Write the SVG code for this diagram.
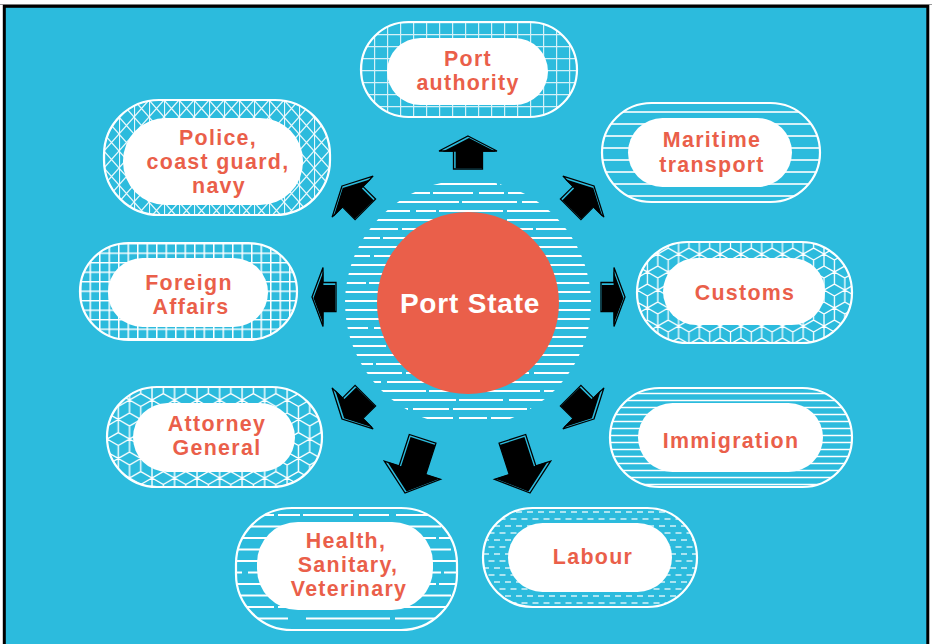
<svg xmlns="http://www.w3.org/2000/svg" xmlns:xlink="http://www.w3.org/1999/xlink" width="932" height="644" viewBox="0 0 932 644">
<style>
.t{font-family:"Liberation Sans",Arial,sans-serif;font-weight:700;font-size:21.4px;letter-spacing:1.3px;fill:#ea5f4a;text-anchor:middle}
.ps{font-family:"Liberation Sans",Arial,sans-serif;font-weight:700;font-size:28px;letter-spacing:0.8px;fill:#ffffff;text-anchor:middle}
.outer{stroke:#ffffff;stroke-width:2.2}
.inner{fill:#ffffff}
.ao{fill:none;stroke:#000;stroke-width:1.3;stroke-linejoin:miter}
.af{fill:#000}
.pl{stroke:#ffffff;fill:none}
.dl{stroke:#ffffff;fill:none;stroke-width:2.2}
</style>
<defs>
<pattern id="pGrid" patternUnits="userSpaceOnUse" width="13" height="12" x="361" y="22">
<path class="pl" d="M0.5,0V12M0,0.5H13" stroke-width="1.4" stroke-opacity="0.8"/>
</pattern>
<pattern id="pTri" patternUnits="userSpaceOnUse" width="15" height="17" x="104" y="100">
<path class="pl" d="M0.5,0V17M0,0L15,17M15,0L0,17" stroke-width="1.2" stroke-opacity="0.9"/>
</pattern>
<pattern id="pH12" patternUnits="userSpaceOnUse" width="20" height="12" x="0" y="106">
<path class="pl" d="M0,6H20" stroke-width="1.6"/>
</pattern>
<pattern id="pSq" patternUnits="userSpaceOnUse" width="9.5" height="9.5" x="80" y="243">
<path class="pl" d="M0.75,0V9.5M0,0.75H9.5" stroke-width="1.5"/>
</pattern>
<pattern id="pCube" patternUnits="userSpaceOnUse" width="20.78" height="36" x="637" y="242">
<path class="pl" stroke-width="1.3" d="M0,-12L10.39,-6L10.39,6L0,12L-10.39,6L-10.39,-6ZM0,0V12M0,0L10.39,-6M0,0L-10.39,-6
M20.78,-12L31.17,-6L31.17,6L20.78,12L10.39,6L10.39,-6ZM20.78,0V12M20.78,0L31.17,-6M20.78,0L10.39,-6
M0,24L10.39,30L10.39,42L0,48L-10.39,42L-10.39,30ZM0,36V48M0,36L10.39,30M0,36L-10.39,30
M20.78,24L31.17,30L31.17,42L20.78,48L10.39,42L10.39,30ZM20.78,36V48M20.78,36L31.17,30M20.78,36L10.39,30
M10.39,6L20.78,12L20.78,24L10.39,30L0,24L0,12ZM10.39,18V30M10.39,18L20.78,12M10.39,18L0,12"/>
</pattern>
<pattern id="pCube2" patternUnits="userSpaceOnUse" width="22.52" height="39" x="107" y="387">
<path class="pl" stroke-width="1.4" d="M0,-13L11.26,-6.5L11.26,6.5L0,13L-11.26,6.5L-11.26,-6.5ZM0,0V13M0,0L11.26,-6.5M0,0L-11.26,-6.5
M22.52,-13L33.78,-6.5L33.78,6.5L22.52,13L11.26,6.5L11.26,-6.5ZM22.52,0V13M22.52,0L33.78,-6.5M22.52,0L11.26,-6.5
M0,26L11.26,32.5L11.26,45.5L0,52L-11.26,45.5L-11.26,32.5ZM0,39V52M0,39L11.26,32.5M0,39L-11.26,32.5
M22.52,26L33.78,32.5L33.78,45.5L22.52,52L11.26,45.5L11.26,32.5ZM22.52,39V52M22.52,39L33.78,32.5M22.52,39L11.26,32.5
M11.26,6.5L22.52,13L22.52,26L11.26,32.5L0,26L0,13ZM11.26,19.5V32.5M11.26,19.5L22.52,13M11.26,19.5L0,13"/>
</pattern>
<pattern id="pH7" patternUnits="userSpaceOnUse" width="20" height="7" x="0" y="390">
<path class="pl" d="M0,3.5H20" stroke-width="1.5"/>
</pattern>
<pattern id="pBrush" patternUnits="userSpaceOnUse" width="230" height="46" x="236" y="510">
<path class="pl" d="M0,5H230" stroke-width="2.2" stroke-dasharray="38 4 22 3 50 6 30 7 70 0"/>
<path class="pl" d="M0,16.5H230" stroke-width="2" stroke-dasharray="14 5 46 3 28 6 40 18 70 0" stroke-dashoffset="90"/>
<path class="pl" d="M0,28H230" stroke-width="2.2" stroke-dasharray="55 4 33 8 20 3 60 5 42 0" stroke-dashoffset="150"/>
<path class="pl" d="M0,39.5H230" stroke-width="2" stroke-dasharray="25 3 66 5 39 12 48 4 28 0" stroke-dashoffset="40"/>
</pattern>
<pattern id="pDash" patternUnits="userSpaceOnUse" width="22" height="14" x="483" y="508">
<path class="pl" d="M0,4H6M11,4H17M5.5,11H11.5M16.5,11H22.5M-5.5,11H0.5" stroke-width="1.6" stroke-opacity="0.8"/>
</pattern>
<clipPath id="discClip"><circle cx="468" cy="303" r="123"/></clipPath>
<polygon id="aU" points="0,0 29,15 14.5,15 14.5,33 -14.5,33 -14.5,15 -29,15"/>
<polygon id="aS" points="0,0 29.5,11 14.5,11 14.5,24 -14.5,24 -14.5,11 -29.5,11"/>
<polygon id="aL" points="0,0 29.5,24 14,24 14,57 -14,57 -14,24 -29.5,24"/>
</defs>

<rect x="0" y="0" width="932" height="644" fill="#ffffff"/>
<line x1="0" y1="4.5" x2="932" y2="4.5" stroke="#9a9a9a" stroke-width="1"/>
<rect x="4.3" y="6.3" width="923.5" height="650" fill="#2cbbdd" stroke="#000" stroke-width="3"/>

<g id="center">
<g clip-path="url(#discClip)">
<path class="dl" d="M340,184H600" stroke-dasharray="48 5 30 4 70 3 100 0"/>
<path class="dl" d="M340,193H600" stroke-dasharray="90 3 40 6 25 4 92 0"/>
<path class="dl" d="M340,202H600" stroke-dasharray="35 4 80 3 55 5 78 0"/>
<path class="dl" d="M340,211H600" stroke-dasharray="70 6 20 3 64 4 93 0"/>
<path class="dl" d="M340,220H600" stroke-dasharray="22 3 95 5 38 4 93 0"/>
<path class="dl" d="M340,229H600" stroke-dasharray="58 4 44 7 80 3 64 0"/>
<path class="dl" d="M340,238H600" stroke-dasharray="40 3 66 4 30 5 112 0"/>
<path class="dl" d="M340,247H600" stroke-dasharray="100 5 25 3 58 4 65 0"/>
<path class="dl" d="M340,256H600" stroke-dasharray="30 4 52 3 90 6 75 0"/>
<path class="dl" d="M340,265H600" stroke-dasharray="76 3 36 5 48 4 88 0"/>
<path class="dl" d="M340,274H600" stroke-dasharray="44 6 82 3 27 4 94 0"/>
<path class="dl" d="M340,283H600" stroke-dasharray="26 3 60 5 96 3 67 0"/>
<path class="dl" d="M340,292H600" stroke-dasharray="66 4 40 3 52 6 89 0"/>
<path class="dl" d="M340,301H600" stroke-dasharray="38 5 90 4 33 3 87 0"/>
<path class="dl" d="M340,310H600" stroke-dasharray="84 3 28 6 62 4 73 0"/>
<path class="dl" d="M340,319H600" stroke-dasharray="52 4 70 3 40 5 86 0"/>
<path class="dl" d="M340,328H600" stroke-dasharray="28 6 46 4 98 3 75 0"/>
<path class="dl" d="M340,337H600" stroke-dasharray="72 3 56 5 30 4 90 0"/>
<path class="dl" d="M340,346H600" stroke-dasharray="46 4 34 3 84 6 83 0"/>
<path class="dl" d="M340,355H600" stroke-dasharray="94 5 42 4 50 3 62 0"/>
<path class="dl" d="M340,364H600" stroke-dasharray="33 3 74 6 40 4 100 0"/>
<path class="dl" d="M340,373H600" stroke-dasharray="62 4 28 3 92 5 66 0"/>
<path class="dl" d="M340,382H600" stroke-dasharray="41 6 58 4 36 3 112 0"/>
<path class="dl" d="M340,391H600" stroke-dasharray="86 3 46 5 60 4 56 0"/>
<path class="dl" d="M340,400H600" stroke-dasharray="24 4 88 3 44 6 91 0"/>
<path class="dl" d="M340,409H600" stroke-dasharray="68 5 36 4 74 3 70 0"/>
<path class="dl" d="M340,418H600" stroke-dasharray="50 3 60 6 28 4 109 0"/>
</g>
<circle cx="468" cy="303" r="91" fill="#ea5f4a"/>
<text class="ps" x="470" y="313">Port State</text>
</g>

<g id="connectors">
<g transform="translate(468,136)"><use xlink:href="#aU" class="ao"/><use xlink:href="#aU" class="af" transform="translate(1,2) scale(0.92)"/></g>
<g transform="translate(594,186) rotate(45)"><use xlink:href="#aU" class="ao"/><use xlink:href="#aU" class="af" transform="translate(1,2) scale(0.92)"/></g>
<g transform="translate(625,297) rotate(90)"><use xlink:href="#aS" class="ao"/><use xlink:href="#aS" class="af" transform="translate(1,1.5) scale(0.9)"/></g>
<g transform="translate(594,419) rotate(135)"><use xlink:href="#aU" class="ao"/><use xlink:href="#aU" class="af" transform="translate(1,2) scale(0.92)"/></g>
<g transform="translate(530,493) rotate(162)"><use xlink:href="#aL" class="ao"/><use xlink:href="#aL" class="af" transform="translate(1,2) scale(0.93)"/></g>
<g transform="translate(405,493) rotate(198)"><use xlink:href="#aL" class="ao"/><use xlink:href="#aL" class="af" transform="translate(-1,2) scale(0.93)"/></g>
<g transform="translate(342,419) rotate(225)"><use xlink:href="#aU" class="ao"/><use xlink:href="#aU" class="af" transform="translate(-1,2) scale(0.92)"/></g>
<g transform="translate(312,297) rotate(270)"><use xlink:href="#aS" class="ao"/><use xlink:href="#aS" class="af" transform="translate(-1,1.5) scale(0.9)"/></g>
<g transform="translate(342,186) rotate(315)"><use xlink:href="#aU" class="ao"/><use xlink:href="#aU" class="af" transform="translate(-1,2) scale(0.92)"/></g>
</g>

<g id="port-authority">
<rect class="outer" x="361" y="22" width="216" height="95" rx="47.5" fill="url(#pGrid)"/>
<rect class="inner" x="387" y="38" width="161" height="67" rx="33.5"/>
<text class="t" x="468" y="66">Port</text>
<text class="t" x="468" y="90">authority</text>
</g>

<g id="police">
<rect class="outer" x="104" y="100" width="226" height="115" rx="55" fill="url(#pTri)"/>
<rect class="inner" x="123" y="118" width="180" height="87" rx="43"/>
<text class="t" x="218" y="145">Police,</text>
<text class="t" x="218" y="169">coast guard,</text>
<text class="t" x="219" y="193">navy</text>
</g>

<g id="maritime">
<rect class="outer" x="602" y="103" width="218" height="99" rx="49.5" fill="url(#pH12)"/>
<rect class="inner" x="628" y="118" width="164" height="69" rx="34.5"/>
<text class="t" x="712" y="147">Maritime</text>
<text class="t" x="712" y="172">transport</text>
</g>

<g id="foreign-affairs">
<rect class="outer" x="80" y="243" width="217" height="97" rx="48.5" fill="url(#pSq)"/>
<rect class="inner" x="108" y="258" width="160" height="69" rx="34.5"/>
<text class="t" x="189" y="290">Foreign</text>
<text class="t" x="191" y="314">Affairs</text>
</g>

<g id="customs">
<rect class="outer" x="637" y="242" width="215" height="101" rx="50.5" fill="url(#pCube)"/>
<rect class="inner" x="663" y="258" width="162" height="67" rx="33.5"/>
<text class="t" x="745" y="300">Customs</text>
</g>

<g id="attorney-general">
<rect class="outer" x="107" y="387" width="215" height="100" rx="50" fill="url(#pCube2)"/>
<rect class="inner" x="133" y="403" width="162" height="69" rx="34.5"/>
<text class="t" x="217" y="431">Attorney</text>
<text class="t" x="217" y="455">General</text>
</g>

<g id="immigration">
<rect class="outer" x="610" y="388" width="242" height="99" rx="49.5" fill="url(#pH7)"/>
<rect class="inner" x="638" y="403" width="185" height="69" rx="34.5"/>
<text class="t" x="731" y="448">Immigration</text>
</g>

<g id="health">
<rect class="outer" x="236" y="508" width="221" height="122" rx="56" fill="url(#pBrush)"/>
<rect class="inner" x="257" y="522" width="176" height="88" rx="41"/>
<text class="t" x="346" y="548">Health,</text>
<text class="t" x="348" y="572">Sanitary,</text>
<text class="t" x="349" y="596">Veterinary</text>
</g>

<g id="labour">
<rect class="outer" x="483" y="508" width="214" height="99" rx="49.5" fill="url(#pDash)"/>
<rect class="inner" x="508" y="523" width="164" height="69" rx="34.5"/>
<text class="t" x="593" y="564">Labour</text>
</g>
</svg>
